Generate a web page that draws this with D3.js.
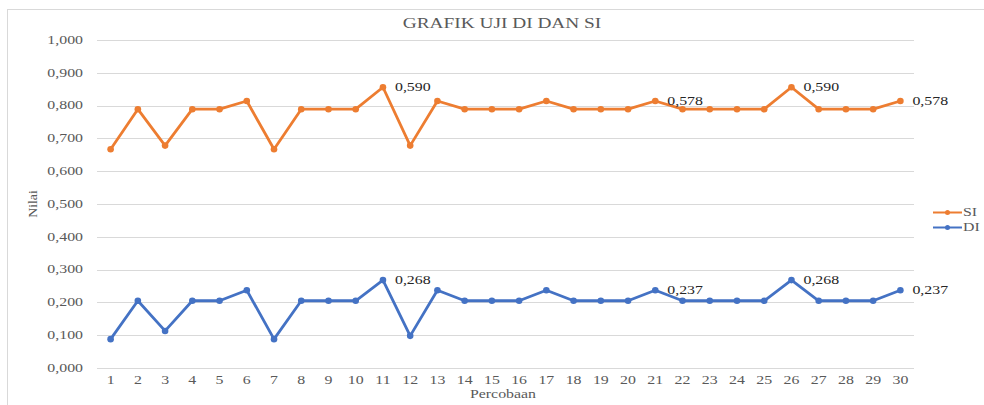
<!DOCTYPE html>
<html>
<head>
<meta charset="utf-8">
<script src="https://cdn.jsdelivr.net/npm/d3@7"></script>
<style>
  body { margin: 0; background: #fff; }
  svg text { font-family: "Times New Roman", "Liberation Serif", Tinos, "DejaVu Serif", serif; }
</style>
</head>
<body>
<div id="chart"></div>
<script>
const percobaan = d3.range(1, 31)
const siValues = [0.667, 0.789, 0.678, 0.789, 0.789, 0.814, 0.667, 0.789, 0.789, 0.789,
  0.856, 0.678, 0.814, 0.789, 0.789, 0.789, 0.814, 0.789, 0.789, 0.789,
  0.814, 0.789, 0.789, 0.789, 0.789, 0.856, 0.789, 0.789, 0.789, 0.814]
const diValues = [0.088, 0.205, 0.113, 0.205, 0.205, 0.237, 0.088, 0.205, 0.205, 0.205,
  0.268, 0.098, 0.237, 0.205, 0.205, 0.205, 0.237, 0.205, 0.205, 0.205,
  0.237, 0.205, 0.205, 0.205, 0.205, 0.268, 0.205, 0.205, 0.205, 0.237]
// labels shown on the chart (percobaan -> text)
const siLabels = [[11, "0,590"], [21, "0,578"], [26, "0,590"], [30, "0,578"]]
const diLabels = [[11, "0,268"], [21, "0,237"], [26, "0,268"], [30, "0,237"]]
const yTicks = [0, 0.1, 0.2, 0.3, 0.4, 0.5, 0.6, 0.7, 0.8, 0.9, 1.0]

const series = [
  { name: "SI", values: siValues, labels: siLabels, color: "#ED7D31" },
  { name: "DI", values: diValues, labels: diLabels, color: "#4472C4" }
]

const width = 984, height = 405
const SX = 1.38 // the picture is stretched sideways
const FONT = "'Liberation Serif', 'Times New Roman', 'DejaVu Serif', serif"

const x = d3.scaleBand().domain(percobaan).range([97, 914])
const y = d3.scaleLinear().domain([0, 1]).range([368, 40])

const svg = d3.select("#chart").append("svg")
  .attr("width", width)
  .attr("height", height)

// wide text helper
function wideText(g, tx, ty, str, size, anchor, fill) {
  return g.append("text")
    .attr("transform", `translate(${tx},${ty}) scale(${SX},1)`)
    .attr("text-anchor", anchor)
    .attr("dominant-baseline", "central")
    .attr("font-family", FONT)
    .style("font-family", FONT)
    .style("font-size", size + "px")
    .attr("fill", fill)
    .text(str)
}

// chart border (only top and left are in view)
svg.append("rect")
  .attr("x", 7.5).attr("y", 9.5)
  .attr("width", 1100).attr("height", 500)
  .attr("fill", "none")
  .attr("stroke", "#d9d9d9")

// grid
svg.append("g").selectAll("line")
  .data(yTicks)
  .enter().append("line")
  .attr("x1", 97).attr("x2", 914)
  .attr("y1", d => Math.round(y(d)) + 0.5)
  .attr("y2", d => Math.round(y(d)) + 0.5)
  .attr("stroke", "#d9d9d9")
  .attr("stroke-width", 1)

const fmt = d => d3.format(".3f")(d).replace(".", ",")

const yAxis = svg.append("g")
yTicks.forEach(t => wideText(yAxis, 83, y(t), fmt(t), 11.5, "end", "#595959"))

const xAxis = svg.append("g")
percobaan.forEach(p => wideText(xAxis, x(p) + x.bandwidth() / 2, 380, p, 11.5, "middle", "#595959"))

// titles
wideText(svg, 502, 23, "GRAFIK UJI DI DAN SI", 14, "middle", "#595959")
wideText(svg, 503, 394, "Percobaan", 11.5, "middle", "#595959")
svg.append("text")
  .attr("transform", `translate(33,204) rotate(-90) scale(1.2,1)`)
  .attr("text-anchor", "middle")
  .attr("dominant-baseline", "central")
  .style("font-family", FONT)
  .style("font-size", "11.5px")
  .attr("fill", "#595959")
  .text("Nilai")

const cx = i => x(percobaan[i]) + x.bandwidth() / 2
const line = d3.line().x((d, i) => cx(i)).y(d => y(d))

series.forEach(s => {
  const g = svg.append("g")
  g.append("path")
    .datum(s.values)
    .attr("d", line)
    .attr("fill", "none")
    .attr("stroke", s.color)
    .attr("stroke-width", 2.8)
    .attr("stroke-linejoin", "round")
  g.selectAll("circle")
    .data(s.values)
    .enter().append("circle")
    .attr("cx", (d, i) => cx(i))
    .attr("cy", d => y(d))
    .attr("r", 3.3)
    .attr("fill", s.color)
  s.labels.forEach(([p, txt]) => {
    wideText(g, cx(p - 1) + 12, y(s.values[p - 1]), txt, 11.5, "start", "#262626")
  })
})

// legend
const legend = svg.append("g")
series.forEach((s, i) => {
  const ly = 212.5 + i * 15
  legend.append("line")
    .attr("x1", 933).attr("x2", 962)
    .attr("y1", ly).attr("y2", ly)
    .attr("stroke", s.color).attr("stroke-width", 2)
  legend.append("circle")
    .attr("cx", 947.5).attr("cy", ly).attr("r", 2.5)
    .attr("fill", s.color)
  wideText(legend, 963, ly, s.name, 11.5, "start", "#595959")
})
</script>
</body>
</html>
